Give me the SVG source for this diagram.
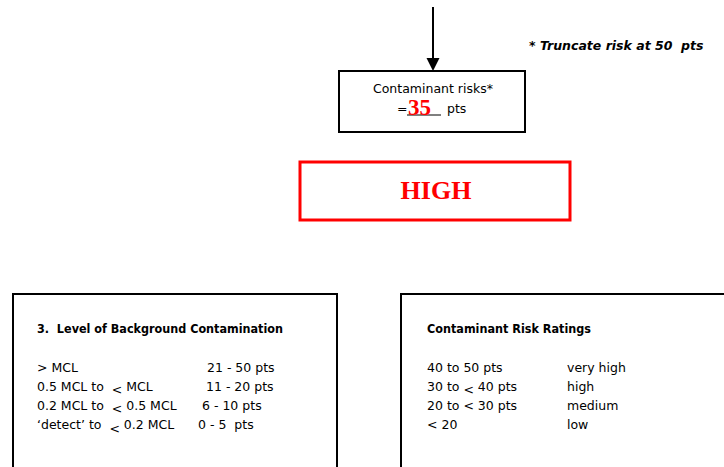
<svg xmlns="http://www.w3.org/2000/svg" width="724" height="467" viewBox="0 0 724 467">
<style>
text{white-space:pre}
.t{font-family:"DejaVu Sans","Liberation Sans",sans-serif;font-size:12.5px;fill:#000}
.b{font-weight:bold}
.box{fill:#fff;stroke:#000;stroke-width:2}
</style>
<rect width="724" height="467" fill="#fff"/>
<g id="connectors">
<line x1="433" y1="7" x2="433" y2="60" stroke="#000" stroke-width="2"/>
<path d="M426.5,58 L439.5,58 L433,71 Z" fill="#000"/>
</g>
<g id="note">
<text class="t b" x="529" y="50" font-style="italic" font-size="10.8" xml:space="preserve">* Truncate risk at 50  pts</text>
</g>
<g id="risk-box">
<rect class="box" x="339" y="71" width="186" height="61"/>
<text class="t" x="433" y="93" text-anchor="middle">Contaminant risks*</text>
<text class="t" x="397" y="113" font-size="10">=</text>
<line x1="407" y1="115" x2="441" y2="115" stroke="#000" stroke-width="1"/>
<text x="408" y="115" font-family="'Liberation Serif',serif" font-weight="bold" font-size="23" fill="#ff0000">35</text>
<text class="t" x="447" y="113">pts</text>
</g>
<g id="high-box">
<rect x="300" y="162" width="270" height="58" fill="#fff" stroke="#ff0000" stroke-width="3"/>
<text x="436" y="199" text-anchor="middle" font-family="'Liberation Serif',serif" font-weight="bold" font-size="26" fill="#ff0000">HIGH</text>
</g>
<g id="background-box">
<rect class="box" x="13" y="294" width="324" height="180"/>
<text class="t b" x="37" y="333" font-size="12" textLength="246" lengthAdjust="spacingAndGlyphs" xml:space="preserve">3.  Level of Background Contamination</text>
<text class="t" x="37" y="372">&gt; MCL</text>
<text class="t" x="37" y="391" xml:space="preserve">0.5 MCL to  <tspan dy="3">&lt;</tspan><tspan dy="-3"> MCL</tspan></text>
<text class="t" x="37" y="410" xml:space="preserve">0.2 MCL to  <tspan dy="3">&lt;</tspan><tspan dy="-3"> 0.5 MCL</tspan></text>
<text class="t" x="37" y="429" xml:space="preserve">‘detect’ to  <tspan dy="4">&lt;</tspan><tspan dy="-4"> 0.2 MCL</tspan></text>
<text class="t" x="207" y="372">21 - 50 pts</text>
<text class="t" x="206" y="391">11 - 20 pts</text>
<text class="t" x="202" y="410">6 - 10 pts</text>
<text class="t" x="198" y="429" xml:space="preserve">0 - 5  pts</text>
</g>
<g id="ratings-box">
<rect class="box" x="401" y="294" width="340" height="180"/>
<text class="t b" x="427" y="333" font-size="12" textLength="164" lengthAdjust="spacingAndGlyphs">Contaminant Risk Ratings</text>
<text class="t" x="427" y="372">40 to 50 pts</text>
<text class="t" x="427" y="391" xml:space="preserve">30 to <tspan dy="3">&lt;</tspan><tspan dy="-3"> 40 pts</tspan></text>
<text class="t" x="427" y="410">20 to &lt; 30 pts</text>
<text class="t" x="427" y="429">&lt; 20</text>
<text class="t" x="567" y="372">very high</text>
<text class="t" x="567" y="391">high</text>
<text class="t" x="567" y="410">medium</text>
<text class="t" x="567" y="429">low</text>
</g>
</svg>
